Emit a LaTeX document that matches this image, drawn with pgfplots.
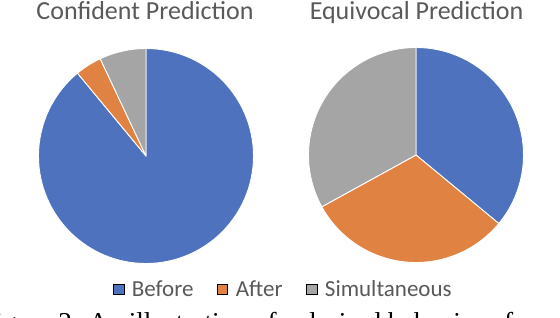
\documentclass[border=0pt]{standalone}
\usepackage{pgfplots}
\pgfplotsset{compat=1.18}
\usepackage{pgfplotstable}
\usepackage{fontspec}
\setmainfont{Carlito}
\newfontfamily\capfont{Liberation Serif}
\definecolor{pieblue}{RGB}{78,114,190}
\definecolor{pieorange}{RGB}{224,130,66}
\definecolor{piegray}{RGB}{165,165,165}
\definecolor{txtgray}{RGB}{89,89,89}

% cx, cy: pie centre; start: cumulative share before the slice; value: share (%)
\pgfplotstableread{
cx  cy  start value
146 162 0  89
416 163 0  36
}\beforedata
\pgfplotstableread{
cx  cy  start value
146 162 89 4
416 163 36 31
}\afterdata
\pgfplotstableread{
cx  cy  start value
146 162 93 7
416 163 67 33
}\simuldata

\pgfplotsset{
  pie slice/.style={
    scatter, only marks, mark=*, mark size=0pt,
    mark options={draw=none, fill=none},
    forget plot,
    visualization depends on={\thisrow{start} \as \pstart},
    visualization depends on={\thisrow{value} \as \pval},
    scatter/@pre marker code/.code={%
      \pgfmathsetmacro\angA{90-3.6*\pstart}%
      \pgfmathsetmacro\angB{90-3.6*(\pstart+\pval)}%
      \path[fill=#1, draw=white, line width=0.9pt, line join=round]
        (0,0) -- (\angA:107.5pt) arc[start angle=\angA, end angle=\angB, radius=107.5pt] -- cycle;
    },
    scatter/@post marker code/.code={},
  },
  legsq/.style={legend image code/.code={\fill[##1] (0pt,-5.2pt) rectangle (10.5pt,5.2pt);}},
}

\begin{document}
\begin{tikzpicture}
\path[use as bounding box, clip] (0,0) rectangle (560pt,318pt);
\begin{axis}[
  at={(0,0)}, anchor=origin,
  x=1pt, y=1pt,
  xmin=0, xmax=560, ymin=0, ymax=318,
  hide axis, clip=false,
  legend columns=-1,
  legend style={
    at={(axis cs:113,28.5)}, anchor=west,
    draw=none, fill=none, inner sep=0pt, outer sep=0pt,
    column sep=8pt,
    nodes={inner sep=0pt, text=txtgray},
    font=\fontsize{23}{26}\selectfont,
    /tikz/every even column/.append style={column sep=23.5pt},
  },
  legend cell align=left,
]
\addplot[pie slice=pieblue] table[x=cx, y=cy] {\beforedata};
\addplot[pie slice=pieorange] table[x=cx, y=cy] {\afterdata};
\addplot[pie slice=piegray] table[x=cx, y=cy] {\simuldata};

\addlegendimage{legsq, fill=pieblue}
\addlegendentry{Before}
\addlegendimage{legsq, fill=pieorange}
\addlegendentry{After}
\addlegendimage{legsq, fill=piegray}
\addlegendentry{Simultaneous}

\node[anchor=base, text=txtgray, font=\fontsize{26}{30}\selectfont, inner sep=0pt]
  at (axis cs:145,298.5) {Confident Prediction};
\node[anchor=base, text=txtgray, font=\fontsize{26}{30}\selectfont, inner sep=0pt]
  at (axis cs:416.5,298.5) {Equivocal Prediction};
\node[anchor=base west, text=black, font=\capfont\fontsize{27.3}{30}\selectfont, inner sep=0pt]
  at (axis cs:-20,-14) {Figure 2: An illustration of a desired behavior of};
\end{axis}
\end{tikzpicture}
\end{document}
